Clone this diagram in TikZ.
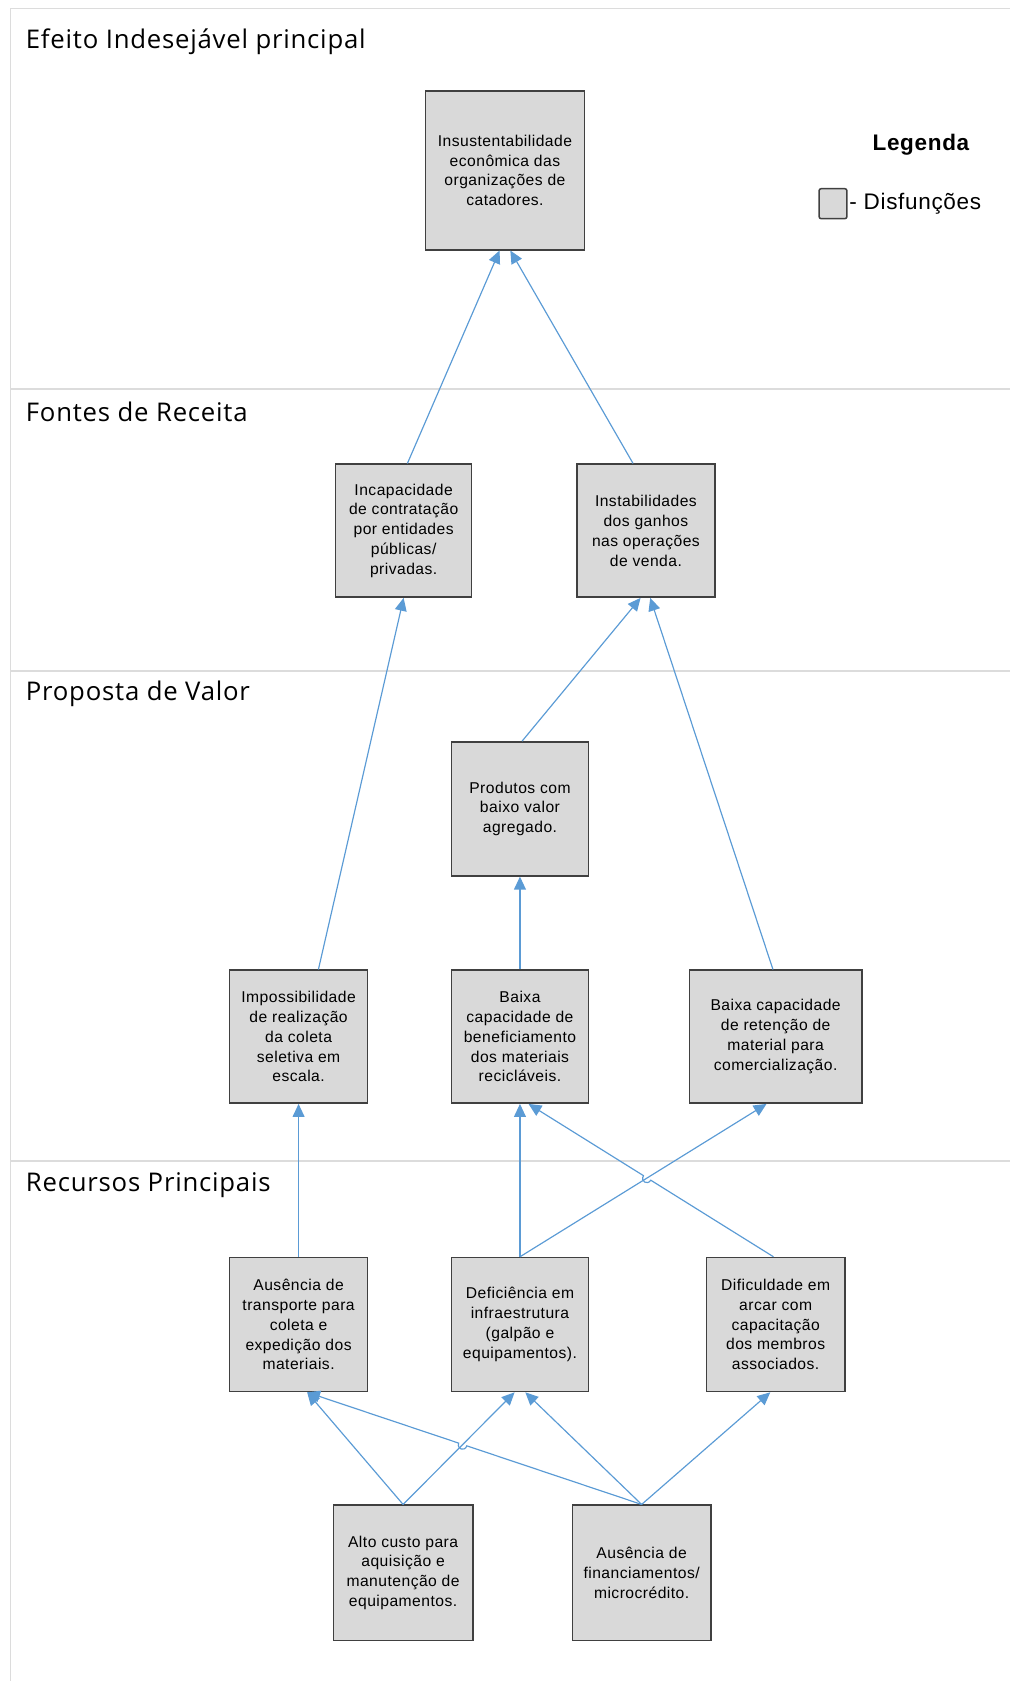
\documentclass[tikz,border=0pt]{standalone}
\usepackage{fontspec}
\setmainfont[LetterSpace=3]{Liberation Sans}
\newfontfamily\titlefont[LetterSpace=3]{Open Sans}
\usetikzlibrary{arrows.meta,calc,intersections}
\definecolor{arrblue}{HTML}{5B9BD5}
\definecolor{boxfill}{HTML}{D9D9D9}
\definecolor{boxline}{HTML}{404040}
\definecolor{framegray}{HTML}{DCDCDC}
\tikzset{
  dbox/.style={draw=boxline, line width=1.4pt, fill=boxfill, align=center,
    inner sep=2pt, font=\fontsize{14.6}{18.5}\selectfont},
  arr/.style={draw=arrblue, line width=1.1pt, -{Triangle[length=12pt,width=11pt]}},
  frameline/.style={draw=framegray, line width=1.3pt},
  sectitle/.style={anchor=base west, inner sep=0pt, font=\titlefont\fontsize{24}{28}\selectfont},
}
\begin{document}
\begin{tikzpicture}[x=1pt,y=-1pt]
\useasboundingbox (0,0) rectangle (942,1568);
% frame
\draw[frameline] (10,1568) -- (10,8) -- (942,8);
\draw[frameline] (10,363) -- (942,363);
\draw[frameline] (10,626) -- (942,626);
\draw[frameline] (10,1083) -- (942,1083);
% titles
\node[sectitle] (t1) at (24,45) {Efeito Indesejável principal};
\node[sectitle] (t2) at (24,393) {Fontes de Receita};
\node[sectitle] (t3) at (24,653) {Proposta de Valor};
\node[sectitle] (t4) at (24,1111) {Recursos Principais};
% legend
\node[font=\bfseries\fontsize{21}{24}\selectfont] (leg) at (859,135) {Legenda};
\node[draw=boxline, line width=1.4pt, fill=boxfill, minimum width=26, minimum height=28, inner sep=0pt, rounded corners=2pt] (legbox) at (777,190) {};
\node[anchor=west, inner sep=0pt, font=\fontsize{21}{24}\selectfont] (legtxt) at (792,190) {- Disfunções};
% boxes
\node[dbox, minimum width=148, minimum height=148] (ins) at (471,159) {Insustentabilidade\\econômica das\\organizações de\\catadores.};
\node[dbox, minimum width=127, minimum height=124] (inc) at (376.5,495) {Incapacidade\\de contratação\\por entidades\\públicas/\\privadas.};
\node[dbox, minimum width=129, minimum height=124] (inst) at (602.5,495) {Instabilidades\\dos ganhos\\nas operações\\de venda.};
\node[dbox, minimum width=128, minimum height=125] (prod) at (485,754.5) {Produtos com\\baixo valor\\agregado.};
\node[dbox, minimum width=129, minimum height=124] (imp) at (278.5,967) {Impossibilidade\\de realização\\da coleta\\seletiva em\\escala.};
\node[dbox, minimum width=128, minimum height=124] (benef) at (485,967) {Baixa\\capacidade de\\beneficiamento\\dos materiais\\recicláveis.};
\node[dbox, minimum width=161, minimum height=124] (ret) at (723.5,967) {Baixa capacidade\\de retenção de\\material para\\comercialização.};
\node[dbox, minimum width=129, minimum height=125] (trans) at (278.5,1235.5) {Ausência de\\transporte para\\coleta e\\expedição dos\\materiais.};
\node[dbox, minimum width=128, minimum height=125] (def) at (485,1235.5) {Deficiência em\\infraestrutura\\(galpão e\\equipamentos).};
\node[dbox, minimum width=129, minimum height=125] (dif) at (723.5,1235.5) {Dificuldade em\\arcar com\\capacitação\\dos membros\\associados.};
\node[dbox, minimum width=130, minimum height=126] (alto) at (376,1467) {Alto custo para\\aquisição e\\manutenção de\\equipamentos.};
\node[dbox, minimum width=129, minimum height=126] (fin) at (598.5,1467) {Ausência de\\financiamentos/\\microcrédito.};
% endpoints
\coordinate (insL) at ([xshift=-5pt]ins.south);
\coordinate (insR) at ([xshift=5pt]ins.south);
\coordinate (incT) at ([xshift=3.5pt]inc.north);
\coordinate (instT) at ([xshift=-12pt]inst.north);
\coordinate (impT) at ([xshift=18.5pt]imp.north);
\coordinate (prodT) at ([xshift=2pt]prod.north);
\coordinate (instL) at ([xshift=-5pt]inst.south);
\coordinate (instR) at ([xshift=4pt]inst.south);
\coordinate (retT) at ([xshift=-2.5pt]ret.north);
\coordinate (retB) at ([xshift=-8.5pt]ret.south);
\coordinate (benefR) at ([xshift=8pt]benef.south);
\coordinate (difT) at ([xshift=-2pt]dif.north);
\coordinate (transB) at ([xshift=8pt]trans.south);
\coordinate (defL) at ([xshift=-5pt]def.south);
\coordinate (defR) at ([xshift=5pt]def.south);
\coordinate (difB) at ([xshift=-5pt]dif.south);
% connectors
\draw[arr] (incT) -- (insL);
\draw[arr] (instT) -- (insR);
\draw[arr] (impT) -- (inc.south);
\draw[arr] (prodT) -- (instL);
\draw[arr] (retT) -- (instR);
\draw[arr] (benef.north) -- (prod.south);
\draw[arr] (trans.north) -- (imp.south);
\draw[arr] (def.north) -- (benef.south);
\draw[arr, name path=dr] (def.north) -- (retB);
\path[name path=db] (difT) -- (benefR);
\path[name intersections={of=dr and db, by=X1}];
\coordinate (X1a) at ($(X1)!4pt!(difT)$);
\coordinate (X1b) at ($(X1)!4pt!(benefR)$);
\draw[arr] (difT) -- (X1a) .. controls ($(X1a)!6pt!90:(X1)$) and ($(X1b)!6pt!-90:(X1)$) .. (X1b) -- (benefR);
\draw[arr] (alto.north) -- (transB);
\draw[arr, name path=ad] (alto.north) -- (defL);
\path[name path=ft] (fin.north) -- (transB);
\path[name intersections={of=ad and ft, by=X2}];
\coordinate (X2a) at ($(X2)!4pt!(fin.north)$);
\coordinate (X2b) at ($(X2)!4pt!(transB)$);
\draw[arr] (fin.north) -- (X2a) .. controls ($(X2a)!6pt!90:(X2)$) and ($(X2b)!6pt!-90:(X2)$) .. (X2b) -- (transB);
\draw[arr] (fin.north) -- (defR);
\draw[arr] (fin.north) -- (difB);
\end{tikzpicture}
\end{document}
